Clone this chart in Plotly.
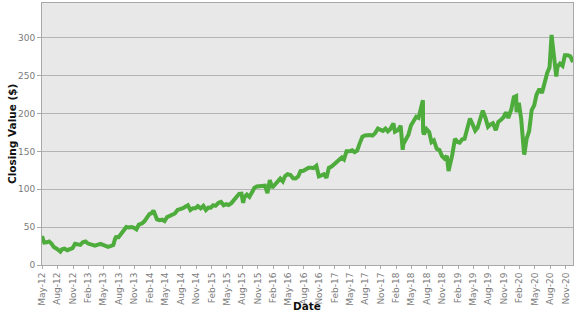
import plotly.graph_objects as go

dates = [
    "2012-05-18", "2012-05-31", "2012-06-15", "2012-06-29", "2012-07-13", "2012-07-27",
    "2012-08-15", "2012-08-31", "2012-09-04", "2012-09-14", "2012-09-28", "2012-10-15",
    "2012-10-31", "2012-11-15", "2012-11-30", "2012-12-14", "2012-12-31",
    "2013-01-15", "2013-01-31", "2013-02-15", "2013-02-28", "2013-03-15", "2013-03-28",
    "2013-04-15", "2013-04-30", "2013-05-15", "2013-05-31", "2013-06-14", "2013-06-28",
    "2013-07-15", "2013-07-25", "2013-07-31", "2013-08-15", "2013-08-30", "2013-09-13",
    "2013-09-30", "2013-10-15", "2013-10-31", "2013-11-15", "2013-11-29", "2013-12-13",
    "2013-12-31",
    "2014-01-15", "2014-01-31", "2014-02-14", "2014-02-28", "2014-03-10", "2014-03-31",
    "2014-04-15", "2014-04-30", "2014-05-15", "2014-05-30", "2014-06-13", "2014-06-30",
    "2014-07-15", "2014-07-31", "2014-08-15", "2014-08-29", "2014-09-15", "2014-09-30",
    "2014-10-15", "2014-10-31", "2014-11-14", "2014-11-28", "2014-12-15", "2014-12-31",
    "2015-01-15", "2015-01-30", "2015-02-13", "2015-02-27", "2015-03-13", "2015-03-31",
    "2015-04-15", "2015-04-30", "2015-05-15", "2015-05-29", "2015-06-15", "2015-06-30",
    "2015-07-15", "2015-07-31", "2015-08-14", "2015-08-24", "2015-08-31", "2015-09-15",
    "2015-09-30", "2015-10-15", "2015-10-30", "2015-11-13", "2015-11-30", "2015-12-15",
    "2015-12-31",
    "2016-01-15", "2016-01-29", "2016-02-12", "2016-02-29", "2016-03-15", "2016-03-31",
    "2016-04-15", "2016-04-29", "2016-05-13", "2016-05-31", "2016-06-15", "2016-06-30",
    "2016-07-15", "2016-07-29", "2016-08-15", "2016-08-31", "2016-09-15", "2016-09-30",
    "2016-10-14", "2016-10-31", "2016-11-15", "2016-11-30", "2016-12-15", "2016-12-30",
    "2017-01-13", "2017-01-31", "2017-02-15", "2017-02-28", "2017-03-15", "2017-03-31",
    "2017-04-13", "2017-04-28", "2017-05-15", "2017-05-31", "2017-06-15", "2017-06-30",
    "2017-07-14", "2017-07-31", "2017-08-15", "2017-08-31", "2017-09-15", "2017-09-29",
    "2017-10-13", "2017-10-31", "2017-11-15", "2017-11-30", "2017-12-15", "2017-12-29",
    "2018-01-12", "2018-01-31", "2018-02-09", "2018-02-28", "2018-03-15", "2018-03-27",
    "2018-03-31", "2018-04-13", "2018-04-30", "2018-05-15", "2018-05-31", "2018-06-15",
    "2018-06-29", "2018-07-13", "2018-07-25", "2018-07-26", "2018-07-31", "2018-08-15",
    "2018-08-31", "2018-09-14", "2018-09-28", "2018-10-15", "2018-10-31", "2018-11-15",
    "2018-11-30", "2018-12-14", "2018-12-24", "2018-12-31",
    "2019-01-15", "2019-01-31", "2019-02-15", "2019-02-28", "2019-03-15", "2019-03-29",
    "2019-04-15", "2019-04-30", "2019-05-15", "2019-05-31", "2019-06-14", "2019-06-28",
    "2019-07-15", "2019-07-31", "2019-08-15", "2019-08-30", "2019-09-13", "2019-09-30",
    "2019-10-15", "2019-10-31", "2019-11-15", "2019-11-29", "2019-12-13", "2019-12-31",
    "2020-01-15", "2020-01-29", "2020-01-31", "2020-02-14", "2020-02-28", "2020-03-16",
    "2020-03-18", "2020-03-31", "2020-04-15", "2020-04-30", "2020-05-15", "2020-05-29",
    "2020-06-15", "2020-06-30", "2020-07-15", "2020-07-31", "2020-08-14", "2020-08-26",
    "2020-08-31", "2020-09-15", "2020-09-23", "2020-09-30", "2020-10-15", "2020-10-30",
    "2020-11-13", "2020-11-30", "2020-12-15", "2020-12-31",
]

closing = [
    38.2, 29.6, 30.0, 31.1, 28.3, 23.7,
    21.2, 18.1, 17.7, 20.7, 21.7, 19.5,
    21.1, 22.2, 28.0, 26.8, 26.6,
    30.1, 31.0, 28.3, 27.2, 26.6, 25.6,
    26.9, 27.8, 26.6, 24.4, 24.0, 24.9,
    26.3, 34.4, 36.8, 36.6, 41.3, 44.3,
    50.2, 49.5, 50.2, 49.0, 47.0, 53.3,
    54.7,
    57.6, 62.6, 67.1, 68.5, 72.0, 60.2,
    59.1, 59.8, 57.9, 63.3, 64.5, 67.3,
    68.0, 72.7, 73.6, 74.8, 77.0, 79.0,
    72.6, 75.0, 74.9, 77.7, 74.7, 78.0,
    72.6, 75.9, 75.7, 79.0, 78.1, 82.2,
    83.3, 78.8, 80.4, 79.2, 81.7, 85.8,
    88.9, 94.0, 94.2, 82.0, 89.4, 92.9,
    89.9, 97.5, 102.0, 103.7, 104.2, 104.6,
    104.7,
    95.0, 112.2, 102.0, 106.9, 110.5, 114.1,
    110.5, 117.6, 119.8, 118.8, 114.6, 114.3,
    116.9, 123.9, 124.4, 126.1, 128.4, 128.3,
    127.9, 131.0, 117.2, 118.4, 119.9, 115.1,
    128.3, 130.3, 133.4, 135.5, 139.7, 142.1,
    139.4, 150.3, 150.2, 151.5, 149.1, 151.0,
    160.0, 169.3, 171.0, 172.0, 171.6, 170.9,
    173.7, 180.1, 178.0, 177.2, 180.2, 176.5,
    179.4, 186.9, 176.1, 178.3, 183.9, 152.2,
    159.8, 164.5, 172.0, 184.3, 191.8, 195.8,
    194.3, 207.3, 217.5, 176.3, 172.6, 179.5,
    175.7, 162.3, 164.5, 153.4, 151.8, 143.9,
    140.6, 144.1, 124.1, 131.1,
    145.4, 166.7, 162.5, 161.5, 166.0, 166.7,
    179.1, 193.4, 186.3, 177.5, 181.3, 193.0,
    203.9, 194.2, 182.6, 185.7, 187.2, 178.1,
    188.9, 191.7, 195.1, 201.6, 194.1, 205.3,
    221.8, 223.2, 201.9, 214.2, 192.5, 146.0,
    147.0, 166.8, 177.0, 204.7, 210.9, 225.1,
    232.5, 227.1, 240.3, 253.7, 261.2, 303.9,
    293.2, 266.1, 249.0, 261.9, 265.9, 263.1,
    277.0, 277.0, 275.6, 268.0,
]

x_title = "Date"
y_title = "Closing Value ($)"
y_ticks = [0, 50, 100, 150, 200, 250, 300]

fig = go.Figure()
fig.add_trace(go.Scatter(
    x=dates, y=closing, mode="lines",
    line=dict(color="#4dac3b", width=4),
    showlegend=False,
))

tick_font = dict(family="DejaVu Sans", size=9, color="#7a7a7a")
title_font = dict(family="DejaVu Sans", size=10.5, color="#111111")

fig.update_layout(
    width=577, height=315,
    margin=dict(l=42, r=4, t=3, b=50),
    paper_bgcolor="white",
    plot_bgcolor="#e8e8e8",
    xaxis=dict(
        type="date",
        range=["2012-05-18", "2020-12-31"],
        tick0="2012-05-18", dtick="M3", tickformat="%b-%y",
        tickangle=-90, tickfont=tick_font,
        showgrid=False, zeroline=False,
        showline=True, linecolor="#a8a8a8", linewidth=1, mirror=True,
        ticks="outside", ticklen=3, tickcolor="#a8a8a8",
        automargin=False,
    ),
    yaxis=dict(
        range=[0, 346],
        tickvals=y_ticks,
        tickfont=tick_font,
        showgrid=True, gridcolor="#b4b4b4", gridwidth=1,
        zeroline=False,
        showline=True, linecolor="#a8a8a8", linewidth=1, mirror=True,
        ticks="outside", ticklen=4, tickcolor="#a8a8a8",
        automargin=False,
    ),
    annotations=[
        dict(text="<b>" + x_title + "</b>", xref="paper", yref="paper",
             x=(307 - 42) / 531, y=-(306 - 265) / 262,
             xanchor="center", yanchor="middle", showarrow=False, font=title_font),
        dict(text="<b>" + y_title + "</b>", xref="paper", yref="paper",
             x=-(42 - 12) / 531, y=0.5, textangle=-90,
             xanchor="center", yanchor="middle", showarrow=False, font=title_font),
    ],
)

fig.write_html("out.html")
